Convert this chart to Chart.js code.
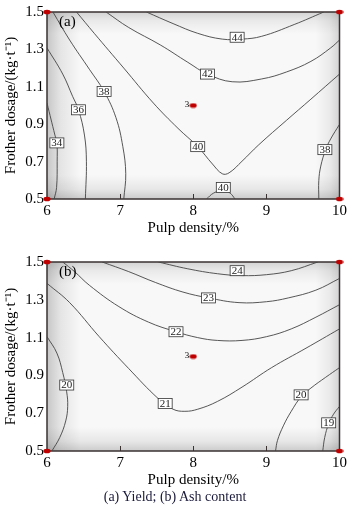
<!DOCTYPE html>
<html>
<head>
<meta charset="UTF-8">
<title>Yield and ash content contours</title>
<script src="https://cdn.jsdelivr.net/npm/chart.js"></script>
<style>
  body { margin: 0; background: #fff; font-family: "Liberation Serif", serif; }
  #wrap { position: relative; width: 350px; height: 511px; }
  .panel { position: absolute; left: 0; }
  #panelA { top: 0; }
  #panelB { top: 250px; }
  #caption { position: absolute; top: 488px; left: 0; width: 350px; text-align: center;
             font-size: 14px; line-height: 17px; color: #1a1a3a; }
</style>
</head>
<body>
<div id="wrap">
  <div class="panel" id="panelA"><canvas id="chartA" width="350" height="237"></canvas></div>
  <div class="panel" id="panelB"><canvas id="chartB" width="350" height="239"></canvas></div>
  <div id="caption">(a) Yield; (b) Ash content</div>
</div>
<script>
// axes
const xTicks = [6, 7, 8, 9, 10];
const yTicks = [0.5, 0.7, 0.9, 1.1, 1.3, 1.5];

// design points (four corners + centre run no. 3)
const designX = [6, 6, 10, 10, 8];
const designY = [0.5, 1.5, 0.5, 1.5, 1.0];
const centreLabel = '3';

// (a) yield contours, [pulp density, frother dosage]
const yield34 = [[6.0, 1.013], [6.108, 0.842], [6.135, 0.80], [6.139, 0.702], [6.131, 0.562], [6.098, 0.5]];
const yield36 = [[6.0, 1.308], [6.215, 1.168], [6.35, 1.049], [6.431, 0.977], [6.512, 0.842], [6.539, 0.702], [6.525, 0.5]];
const yield38a = [[6.081, 1.5], [6.31, 1.35], [6.579, 1.194], [6.781, 1.075], [6.943, 0.935], [7.037, 0.78], [7.077, 0.635], [7.05, 0.5]];
const yield38b = [[10.0, 0.899], [9.879, 0.821], [9.811, 0.764], [9.744, 0.676], [9.717, 0.598], [9.717, 0.5]];
const yield40a = [[6.404, 1.5], [6.646, 1.386], [7.05, 1.2], [7.455, 1.013], [7.791, 0.878], [8.061, 0.78], [8.263, 0.687],
                  [8.397, 0.635], [8.49, 0.64], [8.667, 0.702], [8.896, 0.79], [9.273, 0.92], [9.609, 1.034], [10.0, 1.168]];
const yield40b = [[8.182, 0.5], [8.276, 0.531], [8.411, 0.547], [8.505, 0.531], [8.572, 0.5]];
const yield42 = [[6.808, 1.5], [7.118, 1.417], [7.549, 1.324], [7.926, 1.231], [8.195, 1.168], [8.532, 1.127], [8.936, 1.142],
                 [9.273, 1.179], [9.609, 1.236], [9.879, 1.308], [10.0, 1.35]];
const yield44 = [[7.36, 1.5], [7.724, 1.438], [8.061, 1.386], [8.397, 1.355], [8.667, 1.355], [8.936, 1.37], [9.38, 1.433], [9.785, 1.5]];
const yieldLabels = [['34', 6.135, 0.80], ['36', 6.431, 0.977], ['38', 6.781, 1.075], ['38', 9.80, 0.764],
                     ['40', 8.061, 0.78], ['40', 8.411, 0.562], ['42', 8.195, 1.168], ['44', 8.6, 1.365]];

// (b) ash content contours
const ash19 = [[10.0, 0.736], [9.919, 0.695], [9.852, 0.644], [9.798, 0.572], [9.771, 0.5]];
const ash20a = [[6.0, 1.105], [6.135, 1.018], [6.215, 0.915], [6.269, 0.813], [6.283, 0.736], [6.256, 0.659], [6.175, 0.572], [6.067, 0.5]];
const ash20b = [[10.0, 0.941], [9.811, 0.89], [9.609, 0.833], [9.475, 0.787], [9.34, 0.71], [9.232, 0.633], [9.152, 0.556], [9.125, 0.5]];
const ash21 = [[6.0, 1.387], [6.31, 1.285], [6.714, 1.105], [7.118, 0.936], [7.522, 0.777], [7.724, 0.721], [7.886, 0.71],
               [8.061, 0.721], [8.33, 0.762], [8.667, 0.838], [9.071, 0.941], [9.542, 1.044], [10.0, 1.146]];
const ash22 = [[6.215, 1.5], [6.377, 1.449], [6.579, 1.377], [6.983, 1.264], [7.387, 1.182], [7.764, 1.131], [8.061, 1.1],
               [8.33, 1.085], [8.667, 1.085], [9.003, 1.105], [9.34, 1.146], [9.677, 1.208], [10.0, 1.274]];
const ash23 = [[6.754, 1.5], [7.118, 1.449], [7.481, 1.392], [7.859, 1.341], [8.209, 1.31], [8.626, 1.285], [9.003, 1.29],
               [9.3, 1.31], [9.677, 1.351], [10.0, 1.413]];
const ash24 = [[7.522, 1.5], [7.926, 1.464], [8.33, 1.438], [8.667, 1.428], [9.003, 1.433], [9.34, 1.454], [9.704, 1.5]];
const ashLabels = [['19', 9.852, 0.649], ['20', 6.27, 0.849], ['20', 9.475, 0.797], ['21', 7.616, 0.751],
                   ['22', 7.764, 1.131], ['23', 8.209, 1.31], ['24', 8.6, 1.454]];

const serif = '"Liberation Serif", "Times New Roman", serif';

// small red ellipse used as the marker for the design points
function dotImage() {
  const c = document.createElement('canvas');
  c.width = 8; c.height = 6;
  const g = c.getContext('2d');
  g.fillStyle = '#c00000';
  g.beginPath();
  g.ellipse(4, 3, 3.6, 2.3, 0, 0, Math.PI * 2);
  g.fill();
  return c;
}
const dot = dotImage();

// background shading, frame and inward ticks
const framePlugin = {
  id: 'frame',
  beforeDatasetsDraw(chart) {
    const { ctx, chartArea: a, scales } = chart;
    ctx.save();
    ctx.fillStyle = '#f8f8f8';
    ctx.fillRect(a.left, a.top, a.width, a.height);
    const shade = (x0, y0, x1, y1, alpha) => {
      const g = ctx.createLinearGradient(x0, y0, x1, y1);
      g.addColorStop(0, 'rgba(0,0,0,' + alpha + ')');
      g.addColorStop(0.4, 'rgba(0,0,0,' + (alpha * 0.4) + ')');
      g.addColorStop(1, 'rgba(0,0,0,0)');
      ctx.fillStyle = g;
      ctx.fillRect(a.left, a.top, a.width, a.height);
    };
    shade(a.left, 0, a.left + 34, 0, 0.2);
    shade(a.right, 0, a.right - 24, 0, 0.15);
    shade(0, a.top, 0, a.top + 22, 0.15);
    shade(0, a.bottom, 0, a.bottom - 24, 0.18);

    ctx.strokeStyle = '#3b3232';
    ctx.lineWidth = 1;
    xTicks.slice(1, -1).forEach(v => {
      const px = Math.round(scales.x.getPixelForValue(v)) + 0.5;
      ctx.beginPath();
      ctx.moveTo(px, a.bottom);
      ctx.lineTo(px, a.bottom - 5);
      ctx.stroke();
    });
    ctx.lineWidth = 1.5;
    ctx.strokeRect(a.left, a.top, a.width, a.height);
    ctx.restore();
  },
  afterDatasetsDraw(chart, args, opts) {
    const { ctx, chartArea: a, scales } = chart;
    ctx.save();
    // contour value boxes
    ctx.font = '11px ' + serif;
    ctx.textAlign = 'center';
    ctx.textBaseline = 'middle';
    opts.labels.forEach(([txt, x, y]) => {
      const px = scales.x.getPixelForValue(x);
      const py = scales.y.getPixelForValue(y);
      const w = ctx.measureText(txt).width + 3;
      const h = 10;
      ctx.fillStyle = '#fff';
      ctx.fillRect(px - w / 2, py - h / 2, w, h);
      ctx.strokeStyle = '#333';
      ctx.lineWidth = 0.8;
      ctx.strokeRect(px - w / 2, py - h / 2, w, h);
      ctx.fillStyle = '#222';
      ctx.fillText(txt, px, py + 0.5);
    });
    // panel tag
    ctx.font = '15px ' + serif;
    ctx.textAlign = 'left';
    ctx.textBaseline = 'top';
    ctx.fillStyle = '#000';
    ctx.fillText(opts.tag, a.left + 12, a.top + 3);
    // centre run number
    ctx.font = '9px ' + serif;
    ctx.textAlign = 'right';
    ctx.textBaseline = 'middle';
    ctx.fillText(centreLabel, scales.x.getPixelForValue(designX[4]) - 4, scales.y.getPixelForValue(designY[4]) - 1);
    ctx.restore();
  }
};

function makeChart(id, contours, labels, tag, axisHeight) {
  const datasets = [{
    data: designX.map((x, i) => ({ x: x, y: designY[i] })),
    pointStyle: dot,
    pointRadius: 4,
    showLine: false,
    clip: false
  }];
  contours.forEach(c => datasets.push({
    data: c,
    showLine: true,
    pointRadius: 0,
    borderColor: '#444',
    borderWidth: 0.9,
    tension: 0.4,
    fill: false
  }));
  return new Chart(document.getElementById(id), {
    type: 'scatter',
    data: { datasets: datasets },
    options: {
      responsive: false,
      animation: false,
      devicePixelRatio: 1,
      layout: { padding: { top: 6, right: 6, left: 0, bottom: 0 } },
      plugins: {
        legend: { display: false },
        tooltip: { enabled: false },
        frame: { labels: labels, tag: tag }
      },
      scales: {
        x: {
          type: 'linear', min: 6, max: 10,
          afterBuildTicks: s => { s.ticks = xTicks.map(v => ({ value: v })); },
          ticks: { padding: 3, color: '#000', font: { family: serif, size: 15 } },
          grid: { display: false, drawTicks: false },
          border: { display: false },
          title: { display: true, text: 'Pulp density/%', color: '#000', padding: 0,
                   font: { family: serif, size: 15 } },
          afterFit: s => { s.height = axisHeight; }
        },
        y: {
          type: 'linear', min: 0.5, max: 1.5,
          afterBuildTicks: s => { s.ticks = yTicks.map(v => ({ value: v })); },
          ticks: { padding: 3, color: '#000', font: { family: serif, size: 15 },
                   callback: v => v.toFixed(1) },
          grid: { display: false, drawTicks: false },
          border: { display: false },
          title: { display: true, text: 'Frother dosage/(kg·t⁻¹)', color: '#000',
                   padding: { top: 2, bottom: 0 }, font: { family: serif, size: 15 } },
          afterFit: s => { s.width = 47; }
        }
      }
    },
    plugins: [framePlugin]
  });
}

makeChart('chartA', [yield34, yield36, yield38a, yield38b, yield40a, yield40b, yield42, yield44], yieldLabels, '(a)', 38);
makeChart('chartB', [ash19, ash20a, ash20b, ash21, ash22, ash23, ash24], ashLabels, '(b)', 38);
</script>
</body>
</html>
